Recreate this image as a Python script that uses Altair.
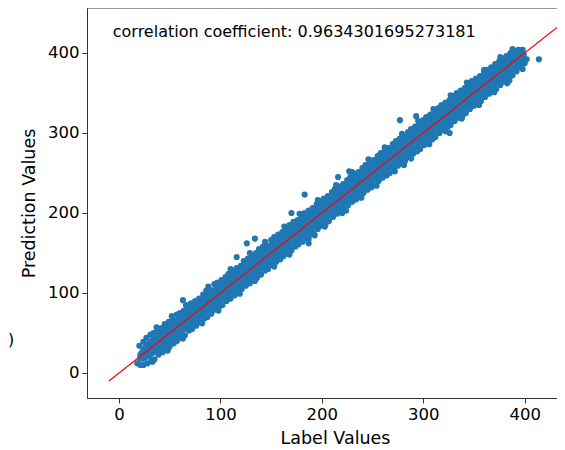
import altair as alt
import pandas as pd

BLUE = "#1f77b4"

# dense core of the scatter band (label -> prediction range)
band_x = [18, 25, 40, 60, 80, 100, 120, 140, 160, 180, 200, 220, 240, 260, 280, 300, 320, 340, 360, 380, 395, 402]
band_lo = [14, 14, 26, 46, 66, 86, 106, 126, 146, 166, 186, 206, 226, 246, 266, 286, 306, 326, 346, 366, 382, 392]
band_hi = [24, 37, 54, 74, 94, 114, 134, 154, 174, 194, 214, 234, 254, 274, 294, 314, 334, 354, 374, 394, 404, 401]

# upper edge points
up_label = [20, 24, 27, 31, 34, 38, 42, 45, 49, 53, 57, 60, 64, 68, 71, 75, 79, 83, 86, 90,
            94, 97, 101, 105, 108, 112, 116, 120, 123, 127, 131, 135, 138, 142, 146, 150, 153, 157, 161, 165,
            168, 172, 176, 180, 183, 187, 191, 195, 198, 202, 206, 210, 213, 217, 221, 225, 228, 232, 236, 240,
            243, 247, 251, 255, 258, 262, 266, 270, 273, 277, 281, 285, 288, 292, 296, 300, 303, 307, 311, 315,
            318, 322, 326, 330, 333, 337, 341, 345, 348, 352, 356, 360, 363, 367, 371, 375, 378, 382, 386, 390,
            394, 398]
up_pred = [34, 39, 44, 48, 50, 53, 56, 61, 64, 66, 73, 75, 78, 83, 87, 90, 93, 98, 103, 104,
           111, 113, 116, 120, 124, 128, 131, 134, 140, 143, 146, 150, 155, 158, 159, 166, 170, 173, 176, 180,
           185, 189, 191, 196, 200, 203, 206, 211, 215, 218, 221, 226, 230, 233, 236, 241, 245, 248, 251, 256,
           260, 263, 266, 271, 275, 278, 281, 286, 290, 293, 296, 301, 305, 308, 311, 316, 320, 323, 326, 331,
           335, 338, 341, 346, 350, 353, 356, 361, 365, 368, 371, 376, 379, 382, 386, 390, 393, 396, 400, 403,
           404, 404]

# upper bumps
ub_label = [37, 52, 66, 88, 110, 129, 144, 163, 178, 196, 214, 230, 246, 262, 279, 295, 310, 327, 343, 360, 376, 388]
ub_pred = [57, 71, 85, 108, 130, 150, 164, 183, 199, 216, 235, 251, 267, 282, 299, 315, 330, 347, 363, 379, 395, 405]

# lower edge points
lo_label = [18, 21, 24, 28, 32, 35, 39, 43, 46, 50, 54, 57, 61, 65, 69, 72, 76, 80, 84, 87,
            91, 95, 99, 102, 106, 110, 114, 117, 121, 125, 129, 132, 136, 140, 144, 147, 151, 155, 159, 162,
            166, 170, 174, 177, 181, 185, 189, 192, 196, 200, 204, 207, 211, 215, 219, 222, 226, 230, 234, 237,
            241, 245, 249, 252, 256, 260, 264, 267, 271, 275, 279, 282, 286, 290, 294, 297, 301, 305, 309, 312,
            316, 320, 324, 327, 331, 335, 339, 342, 346, 350, 354, 357, 361, 365, 369, 372, 376, 380, 384, 388,
            392, 396, 400, 402]
lo_pred = [12, 10, 10, 12, 16, 17, 23, 26, 30, 33, 37, 40, 44, 47, 53, 55, 59, 63, 68, 70,
           74, 79, 83, 85, 90, 93, 97, 100, 105, 109, 112, 116, 119, 123, 128, 130, 135, 139, 142, 146,
           149, 153, 158, 161, 164, 168, 173, 175, 180, 184, 187, 190, 195, 199, 202, 205, 210, 214, 217, 220,
           225, 229, 232, 235, 240, 244, 247, 250, 255, 259, 262, 265, 270, 274, 277, 280, 285, 289, 292, 295,
           300, 304, 307, 310, 315, 319, 322, 325, 330, 334, 337, 340, 345, 349, 352, 355, 360, 364, 368, 372,
           377, 382, 387, 392]

# lower bumps
lb_label = [33, 48, 63, 82, 98, 119, 134, 153, 168, 187, 203, 220, 239, 254, 272, 288, 306, 322, 338, 355, 370, 385, 398]
lb_pred = [14, 28, 43, 62, 78, 99, 115, 133, 148, 167, 183, 200, 219, 234, 252, 268, 286, 302, 318, 335, 351, 366, 380]

# outliers
out_label = [414, 383, 326, 277, 293, 183, 170, 134, 126, 116, 63, 187, 193, 281, 224, 216, 227]
out_pred = [392, 362, 300, 316, 321, 223, 200, 168, 162, 145, 91, 162, 172, 260, 203, 245, 252]

# identity reference line
line_x = [-10, 435]
line_y = [-10, 435]

x_ticks = [0, 100, 200, 300, 400]
y_ticks = [0, 100, 200, 300, 400]
annotation = "correlation coefficient: 0.9634301695273181"

pts = pd.DataFrame({
    "label": up_label + ub_label + lo_label + lb_label + out_label,
    "pred": up_pred + ub_pred + lo_pred + lb_pred + out_pred,
})
band = pd.DataFrame({"x": band_x, "lo": band_lo, "hi": band_hi})
line = pd.DataFrame({"x": line_x, "y": line_y})
txt = pd.DataFrame({"x": [-6.2], "y": [426], "t": [annotation]})

W, H = 470, 390
xs = alt.Scale(domain=[-31.6, 431.9], nice=False, zero=False)
ys = alt.Scale(domain=[-31.3, 456.2], nice=False, zero=False)
AX = "#333333"

x_axis = alt.Axis(values=x_ticks, title="Label Values", grid=False, labelFontSize=16.5,
                  titleFontSize=17.5, titleFontWeight="normal", tickSize=5, labelPadding=3,
                  domainColor=AX, tickColor=AX, labelColor="#000000", titleColor="#000000",
                  titleX=248, titleY=40, titleBaseline="middle", titleAlign="center",
                  labelFlush=False, labelFont="DejaVu Sans", titleFont="DejaVu Sans")
y_axis = alt.Axis(values=y_ticks, title="Prediction Values", grid=False, labelFontSize=16.5,
                  titleFontSize=17.5, titleFontWeight="normal", tickSize=5, labelPadding=3,
                  domainColor=AX, tickColor=AX, labelColor="#000000", titleColor="#000000",
                  titleX=-58, titleY=195, titleAngle=270, titleBaseline="middle", titleAlign="center",
                  labelFlush=False, labelFont="DejaVu Sans", titleFont="DejaVu Sans")

area = alt.Chart(band).mark_area(color=BLUE, opacity=1).encode(
    x=alt.X("x:Q", scale=xs, axis=x_axis),
    y=alt.Y("lo:Q", scale=ys, axis=y_axis),
    y2="hi:Q",
)
points = alt.Chart(pts).mark_circle(size=38, color=BLUE, opacity=1).encode(
    x=alt.X("label:Q", scale=xs, axis=x_axis),
    y=alt.Y("pred:Q", scale=ys, axis=y_axis),
)
ref = alt.Chart(line).mark_line(color="#ff0000", strokeWidth=1.2, clip=True).encode(
    x=alt.X("x:Q", scale=xs, axis=x_axis),
    y=alt.Y("y:Q", scale=ys, axis=y_axis),
)
label = alt.Chart(txt).mark_text(align="left", baseline="middle", fontSize=16,
                                 font="DejaVu Sans", color="#000000").encode(
    x=alt.X("x:Q", scale=xs, axis=x_axis),
    y=alt.Y("y:Q", scale=ys, axis=y_axis),
    text="t:N",
)
top_spine = alt.Chart(pd.DataFrame({"a": [0]})).mark_rule(color=AX, strokeWidth=1).encode(
    x=alt.value(0), x2=alt.value(W), y=alt.value(0)
)
stray = alt.Chart(pd.DataFrame({"t": [")"]})).mark_text(
    align="left", baseline="middle", fontSize=16, font="DejaVu Sans", color="#000000"
).encode(x=alt.value(-79), y=alt.value(332), text="t:N")

chart = alt.layer(area, points, ref, label, top_spine, stray).properties(
    width=W, height=H,
    autosize=alt.AutoSizeParams(type="none"),
    padding={"left": 79, "top": 0, "right": 0, "bottom": 50},
).configure(font="DejaVu Sans").configure_view(strokeWidth=0)

chart.save("out.html", embed_options={"renderer": "svg", "actions": False})
